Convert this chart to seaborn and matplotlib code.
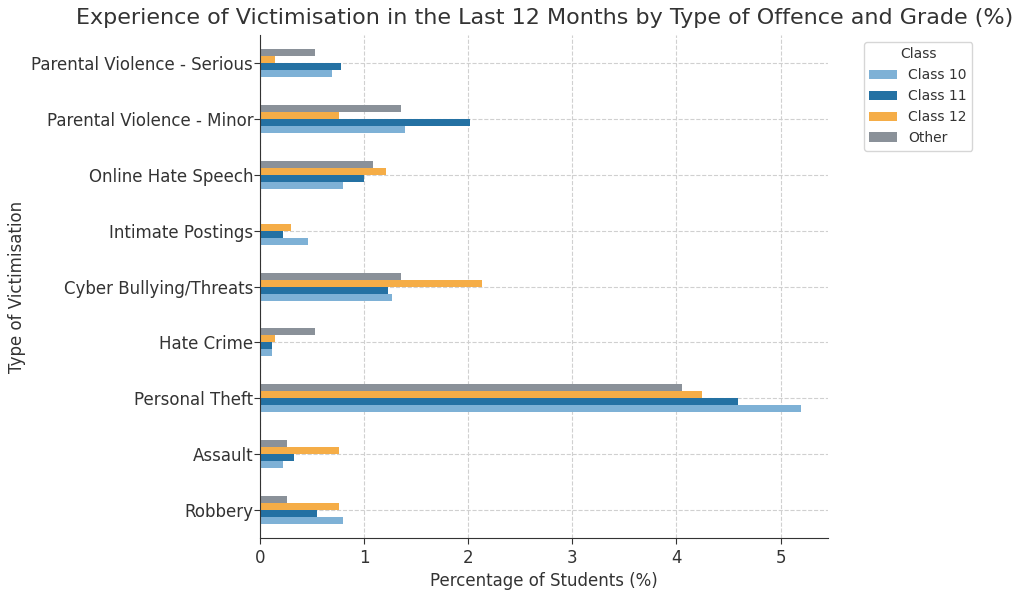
import pandas as pd
import numpy as np
import seaborn as sns
import matplotlib.pyplot as plt

offences = ['Robbery', 'Assault', 'Personal Theft', 'Hate Crime',
            'Cyber Bullying/Threats', 'Intimate Postings', 'Online Hate Speech',
            'Parental Violence - Minor', 'Parental Violence - Serious']
classes = ['Class 10', 'Class 11', 'Class 12', 'Other']

class_10 = [0.80, 0.22, 5.20, 0.11, 1.27, 0.46, 0.80, 1.39, 0.69]
class_11 = [0.55, 0.33, 4.59, 0.11, 1.23, 0.22, 1.00, 2.02, 0.78]
class_12 = [0.755, 0.755, 4.25, 0.145, 2.13, 0.30, 1.21, 0.755, 0.145]
other = [0.26, 0.26, 4.05, 0.53, 1.35, 0.0, 1.08, 1.35, 0.53]

colors = ['#7EB1D6', '#2471A3', '#F5AD47', '#8A9199']

df = pd.DataFrame({'offence': offences, 'Class 10': class_10, 'Class 11': class_11,
                   'Class 12': class_12, 'Other': other})
long_df = df.melt(id_vars='offence', var_name='Class', value_name='pct')

sns.set_style('white')
plt.rcParams['font.family'] = ['DejaVu Sans']
txt = '#333333'

fig = plt.figure(figsize=(10.24, 5.92), dpi=100)
ax = fig.add_axes([0.254, 0.091, 0.555, 0.85])
sns.barplot(data=long_df, x='pct', y='offence', hue='Class', order=offences,
            hue_order=classes, palette=colors, orient='h', width=0.5,
            saturation=1, linewidth=0, ax=ax)
ax.invert_yaxis()
ax.set_ylim(-0.5, 8.5)
ax.set_xlim(0, 5.46)

ax.grid(True, linestyle='--', color='#d0d0d0', linewidth=0.8)
ax.set_axisbelow(True)
sns.despine(ax=ax)
ax.spines['left'].set_color('#333333')
ax.spines['bottom'].set_color('#333333')
ax.tick_params(axis='both', labelsize=12, colors=txt, length=4, left=True, bottom=True)
ax.tick_params(axis='y', pad=1)

ax.set_title('Experience of Victimisation in the Last 12 Months by Type of Offence and Grade (%)',
             fontsize=16, color=txt, pad=8)
ax.set_xlabel('Percentage of Students (%)', fontsize=12, color=txt)
ax.set_ylabel('Type of Victimisation', fontsize=12, color=txt)

leg = ax.legend(title='Class', loc='upper left', bbox_to_anchor=(1.05, 1.0),
                fontsize=10, title_fontsize=10, frameon=True)
for t in leg.get_texts():
    t.set_color(txt)
leg.get_title().set_color(txt)

fig.savefig('out.png', dpi=100)
